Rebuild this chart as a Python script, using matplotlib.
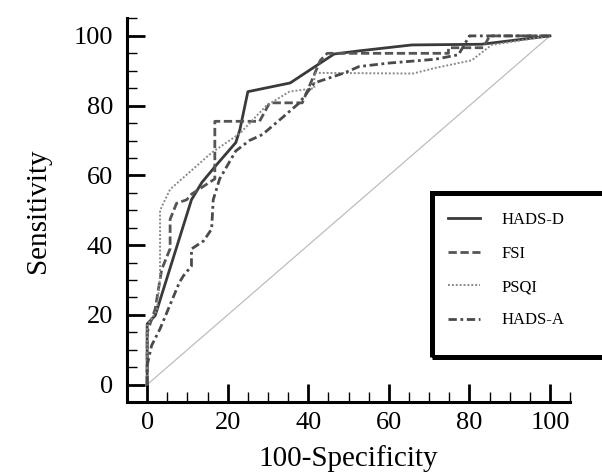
import matplotlib
matplotlib.use("Agg")
import matplotlib.pyplot as plt
from matplotlib.ticker import MultipleLocator
from matplotlib.patches import Rectangle

plt.rcParams['font.family'] = ['Liberation Serif', 'DejaVu Serif']

# ROC curves
hads_d_x = [0, 0, 2, 11, 13.6, 17.2, 22, 23, 25, 35.5, 46.4, 52.6, 65.7, 83, 100]
hads_d_y = [0, 17.4, 19.8, 53, 58, 63, 69.4, 73, 84, 86.5, 94.8, 95.7, 97.4, 97.6, 100]

fsi_x = [0, 0, 2, 3.6, 5.7, 5.7, 7.3, 9.8, 11, 16.8, 16.8, 27.9, 30.4, 38.5, 43, 44.7,
         74.8, 74.8, 83.5, 85, 100]
fsi_y = [0, 15, 21.7, 33, 39, 47.4, 52, 53, 54.6, 59, 75.5, 75.5, 80.8, 80.8, 93, 95,
         95, 96.6, 96.6, 100, 100]

psqi_x = [0, 0, 2.4, 3.2, 3.2, 5.7, 16, 23, 29.6, 35.3, 41.5, 41.5, 66, 71.5, 80.6, 85.5, 100]
psqi_y = [0, 17, 21.2, 31, 50, 56, 66.5, 72, 80, 84, 85, 89.4, 89.2, 90.8, 93, 97.4, 100]

hads_a_x = [0, 0, 1.1, 3.2, 8, 9, 11, 11, 14, 16, 16.4, 18, 22, 25.4, 28.6, 33.6, 37.8,
            41.5, 49, 52.6, 60, 71.5, 77.3, 80, 100]
hads_a_y = [0, 5.5, 11.2, 16, 29.3, 31.2, 34, 38.9, 41.2, 44.6, 53, 59, 67, 70, 71.7, 76.6,
            80.8, 86.5, 89.4, 91.2, 92.2, 93.3, 94.6, 100, 100]

diag = [0, 100]

fig = plt.figure(figsize=(6.02, 4.73), dpi=100)
ax = fig.add_axes([0.211, 0.150, 0.736, 0.811])

ax.plot(diag, diag, color='#bdbdbd', lw=0.9)
ax.plot(hads_d_x, hads_d_y, color='#3a3a3a', lw=2.0, label='HADS-D')
ax.plot(fsi_x, fsi_y, color='#555555', lw=2.0, ls=(0, (3, 1.3)), label='FSI')
ax.plot(psqi_x, psqi_y, color='#8a8a8a', lw=1.4, ls=(0, (1, 1)), label='PSQI')
ax.plot(hads_a_x, hads_a_y, color='#4a4a4a', lw=2.0, ls=(0, (3, 1.3, 1, 1.3)), label='HADS-A')

ax.set_xlim(-5, 105)
ax.set_ylim(-5, 105)
ax.xaxis.set_major_locator(MultipleLocator(20))
ax.yaxis.set_major_locator(MultipleLocator(20))
ax.xaxis.set_minor_locator(MultipleLocator(5))
ax.yaxis.set_minor_locator(MultipleLocator(5))
ax.tick_params(which='major', direction='in', length=13, width=2, labelsize=19, pad=7)
ax.tick_params(which='minor', direction='in', length=7, width=1)
ax.tick_params(axis='y', pad=10)

for s in ['top', 'right']:
    ax.spines[s].set_visible(False)
for s in ['left', 'bottom']:
    ax.spines[s].set_linewidth(2.2)

ax.set_xlabel('100-Specificity', fontsize=21, labelpad=8)
ax.set_ylabel('Sensitivity', fontsize=21, labelpad=16)

# legend box, runs off the right edge like the original
fig.patches.append(Rectangle((0.7176, 0.2452), 0.32, 0.3467, transform=fig.transFigure,
                             fill=False, lw=3.6, edgecolor='black'))
leg = ax.legend(loc='upper left', bbox_to_anchor=(448 / 602, (473 - 212) / 473),
                bbox_transform=fig.transFigure, frameon=False, fontsize=12,
                borderpad=0, borderaxespad=0, handlelength=1.9, handletextpad=1.3,
                labelspacing=1.05)

fig.savefig('out.png', dpi=100)
